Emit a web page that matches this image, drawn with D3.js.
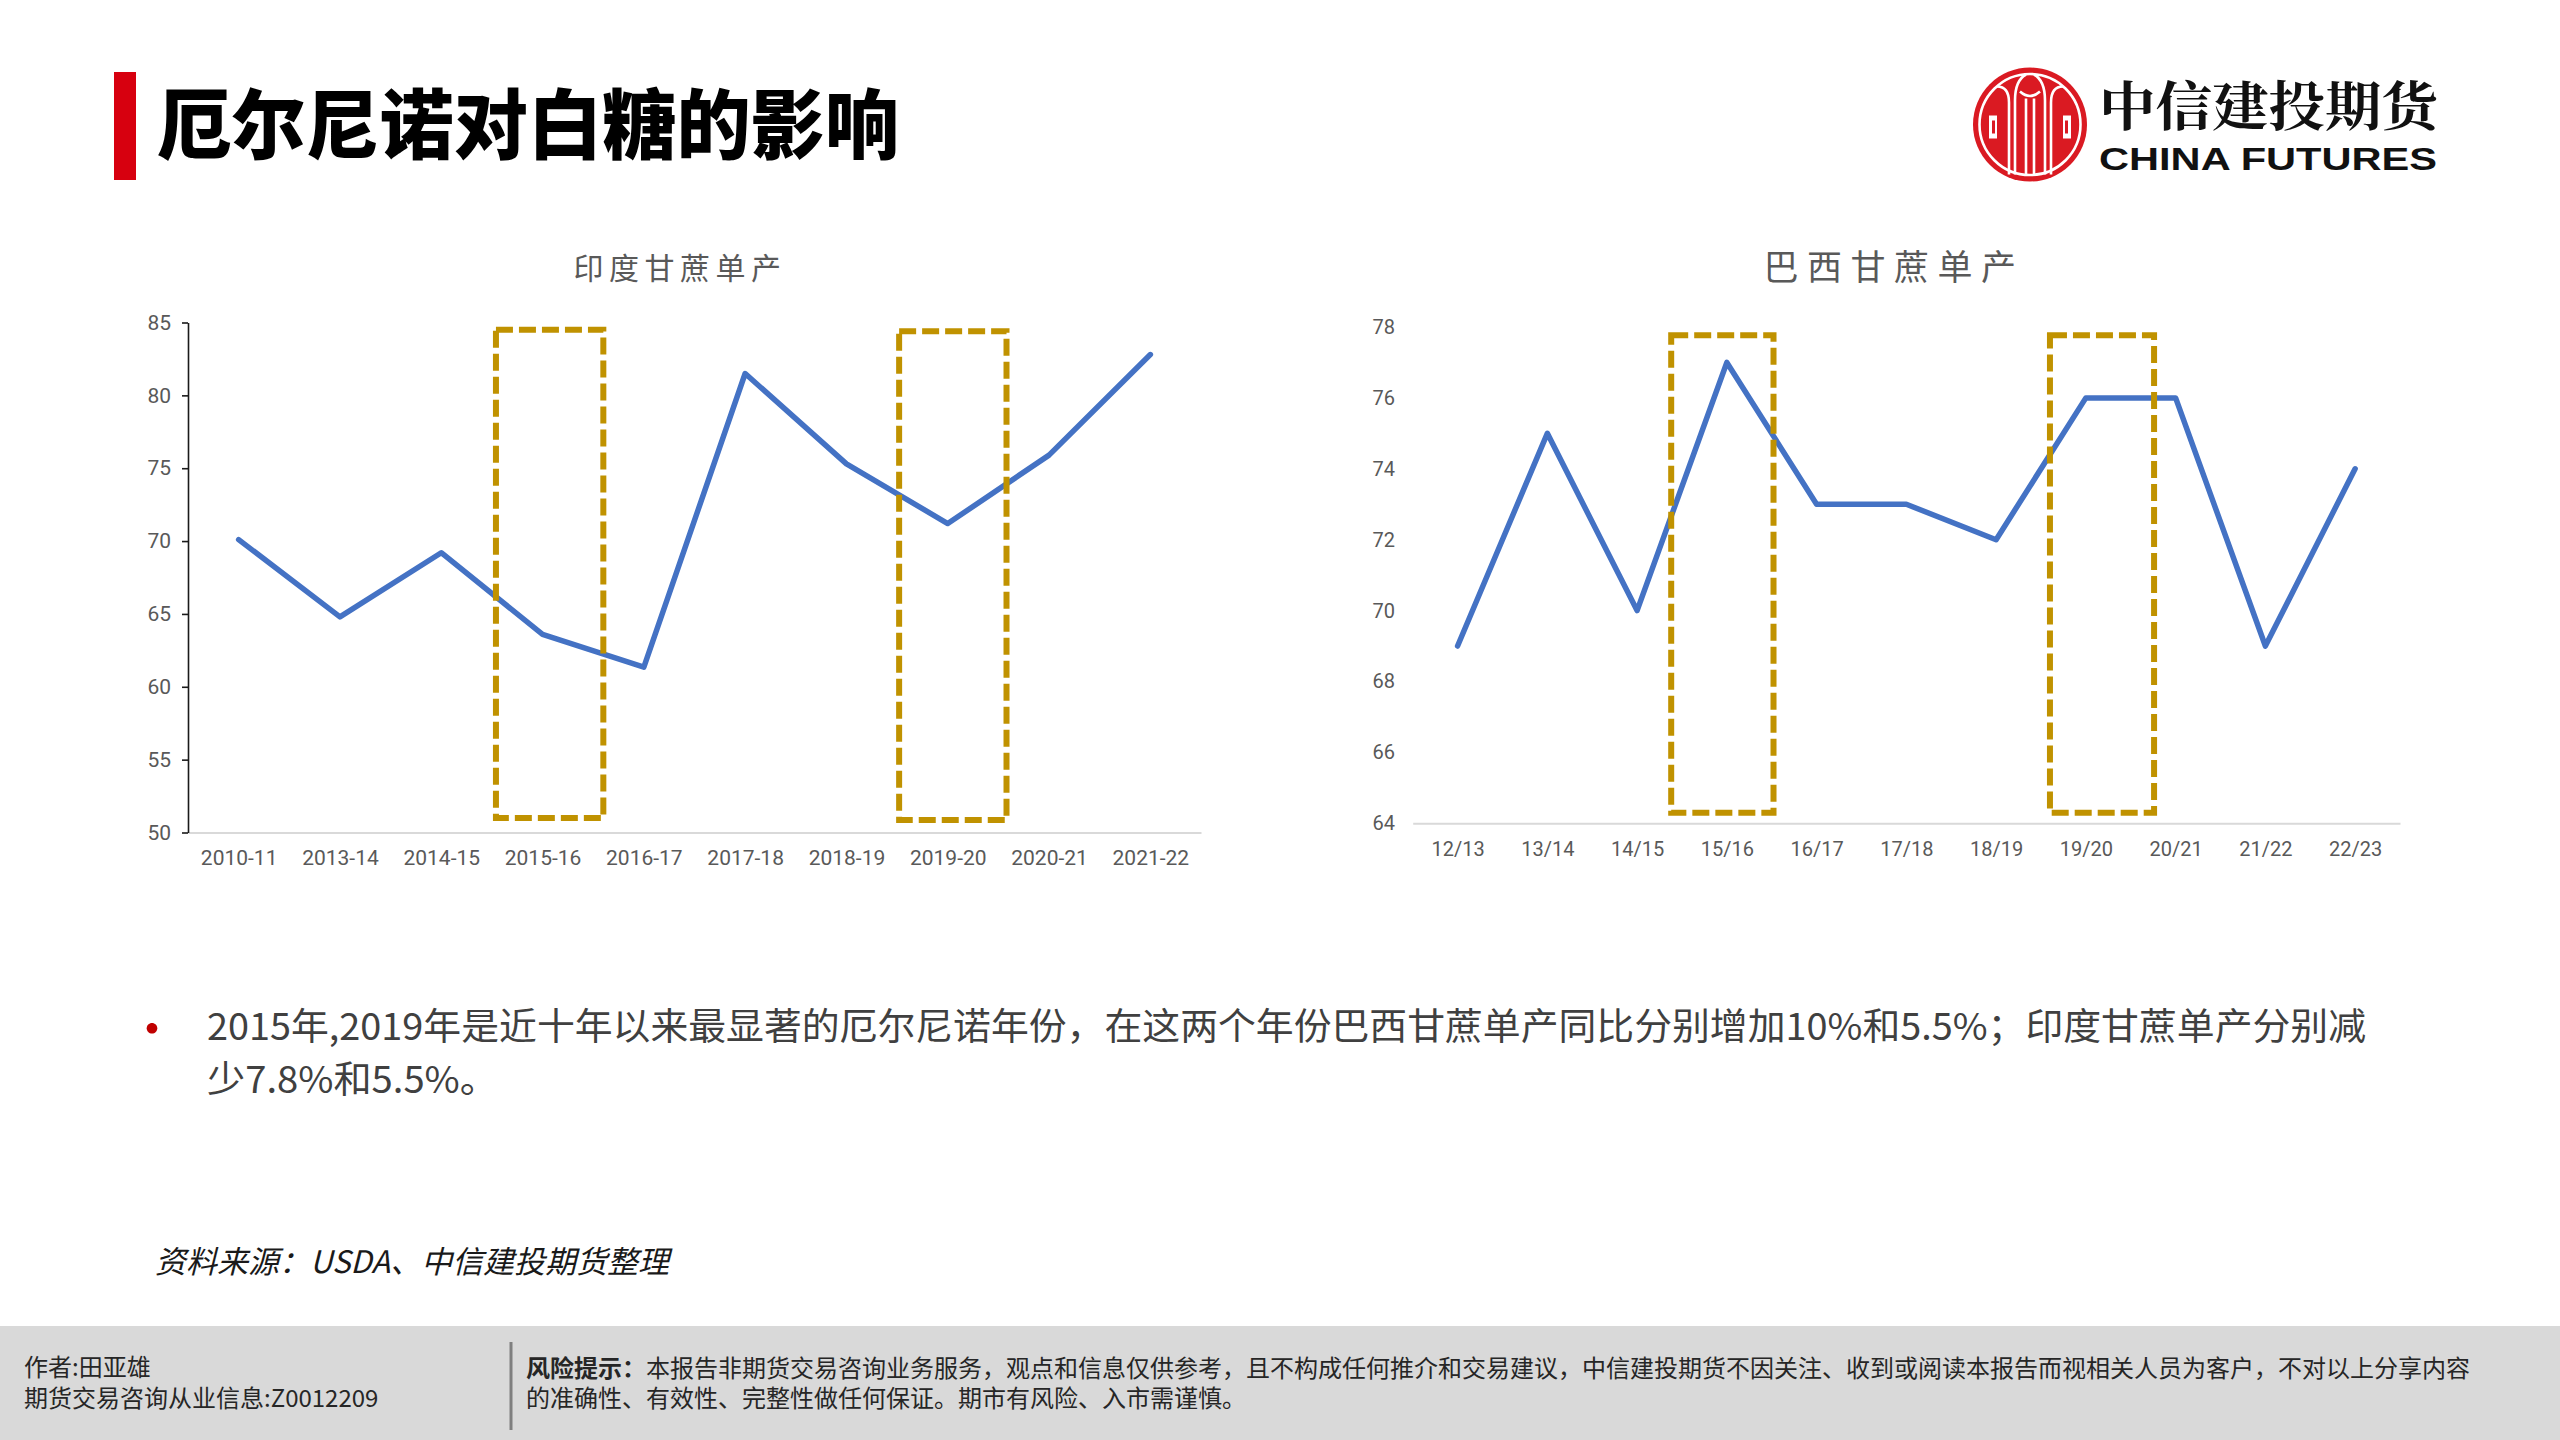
<!DOCTYPE html>
<html><head><meta charset="utf-8">
<script src="https://cdn.jsdelivr.net/npm/d3@7"></script>
<style>body{margin:0;background:#fff;} svg{display:block;}</style>
</head><body><svg id="c" width="2560" height="1440"></svg>
<script>
// ---------- data ----------
const indiaTitle = "印度甘蔗单产";
const indiaCategories = ["2010-11","2013-14","2014-15","2015-16","2016-17","2017-18","2018-19","2019-20","2020-21","2021-22"];
const indiaValues = [70.1, 64.8, 69.2, 63.6, 61.35, 81.5, 75.3, 71.2, 75.9, 82.8];
const indiaTicks = [50, 55, 60, 65, 70, 75, 80, 85];
// highlight boxes: [from category index, to category index, low value, high value]
const indiaBoxes = [[2.54, 3.60, 51.0, 84.5], [6.52, 7.58, 50.85, 84.4]];

const brazilTitle = "巴西甘蔗单产";
const brazilCategories = ["12/13","13/14","14/15","15/16","16/17","17/18","18/19","19/20","20/21","21/22","22/23"];
const brazilValues = [69, 75, 70, 77, 73, 73, 72, 76, 76, 69, 74];
const brazilTicks = [64, 66, 68, 70, 72, 74, 76, 78];
const brazilBoxes = [[2.38, 3.52, 64.3, 77.77], [6.60, 7.76, 64.3, 77.77]];

const mainTitle = "厄尔尼诺对白糖的影响";
const bulletLines = ["2015年,2019年是近十年以来最显著的厄尔尼诺年份，在这两个年份巴西甘蔗单产同比分别增加10%和5.5%；印度甘蔗单产分别减", "少7.8%和5.5%。"];
const sourceText = "资料来源：USDA、中信建投期货整理";
const authorLines = ["作者:田亚雄", "期货交易咨询从业信息:Z0012209"];
const riskLabel = "风险提示：";
const riskLines = ["本报告非期货交易咨询业务服务，观点和信息仅供参考，且不构成任何推介和交易建议，中信建投期货不因关注、收到或阅读本报告而视相关人员为客户，不对以上分享内容", "的准确性、有效性、完整性做任何保证。期市有风险、入市需谨慎。"];

// ---------- drawing ----------
const svg = d3.select("#c");
const CJK = "'Noto Sans CJK SC', 'Noto Sans', sans-serif";
const NUM = "Roboto, 'Noto Sans', sans-serif";

// header
svg.append("rect").attr("x", 114).attr("y", 72).attr("width", 22).attr("height", 108).attr("fill", "#D7000F");
svg.append("text").attr("x", 157).attr("y", 120).attr("dominant-baseline", "central")
  .attr("font-family", CJK).attr("font-weight", 900).attr("font-size", 76)
  .attr("textLength", 742).attr("lengthAdjust", "spacingAndGlyphs").attr("fill", "#000").text(mainTitle);

// logo
const logo = svg.append("g").attr("transform", "translate(2030,124.5)");
logo.append("circle").attr("r", 57).attr("fill", "#DA1A22");
logo.append("circle").attr("r", 50.5).attr("fill", "none").attr("stroke", "#fff").attr("stroke-width", 2.6);
const lp = [
  "M-21,50 L-21,-22 Q-21,-38 -33,-38",
  "M-15,50 L-15,-24 Q-15,-44 -4,-50",
  "M21,50 L21,-22 Q21,-38 33,-38",
  "M15,50 L15,-24 Q15,-44 4,-50",
  "M-10,-33 Q0,-24 10,-33",
  "M-4,50 L-4,-26",
  "M4,50 L4,-26"
];
lp.forEach(d => logo.append("path").attr("d", d).attr("fill", "none").attr("stroke", "#fff").attr("stroke-width", 2.6));
logo.append("path").attr("d", "M-41,-9 L-33,-9 L-33,14 L-41,14 Z").attr("fill", "#fff");
logo.append("rect").attr("x", -38).attr("y", -4).attr("width", 3).attr("height", 13).attr("fill", "#DA1A22");
logo.append("path").attr("d", "M41,-9 L33,-9 L33,14 L41,14 Z").attr("fill", "#fff");
logo.append("rect").attr("x", 35).attr("y", -4).attr("width", 3).attr("height", 13).attr("fill", "#DA1A22");
svg.append("text").attr("x", 2099).attr("y", 126)
  .attr("font-family", "'Noto Serif CJK SC', " + CJK).attr("font-weight", 700).attr("font-size", 53)
  .attr("textLength", 339).attr("lengthAdjust", "spacingAndGlyphs").attr("fill", "#111").text("中信建投期货");
svg.append("text").attr("x", 2099).attr("y", 170)
  .attr("font-family", "'Liberation Sans', Arial, sans-serif").attr("font-weight", 700).attr("font-size", 31)
  .attr("textLength", 338).attr("lengthAdjust", "spacingAndGlyphs").attr("fill", "#111").text("CHINA FUTURES");

function drawChart(cfg) {
  const n = cfg.categories.length;
  const x = d3.scaleLinear().domain([-0.5, n - 0.5]).range([cfg.x0, cfg.x1]);
  const y = d3.scaleLinear().domain([cfg.ticks[0], cfg.ticks[cfg.ticks.length - 1]]).range([cfg.yb, cfg.yt]);
  const g = svg.append("g");

  // title
  g.append("text").attr("x", cfg.titleX).attr("y", cfg.titleY).attr("text-anchor", "middle")
    .attr("dominant-baseline", "central").attr("font-family", CJK).attr("font-weight", 400)
    .attr("font-size", cfg.titleSize).attr("letter-spacing", cfg.titleSpacing).attr("fill", "#595959").text(cfg.title);

  // x axis
  const xa = g.append("g").attr("transform", `translate(0,${cfg.yb})`)
    .call(d3.axisBottom(x).tickValues(d3.range(n)).tickFormat(i => cfg.categories[i]).tickSize(0).tickPadding(cfg.xPad));
  xa.select(".domain").attr("stroke", "#D9D9D9").attr("stroke-width", 2);
  xa.selectAll("text").attr("font-family", NUM).attr("font-size", cfg.xFont).attr("fill", "#595959");

  // y axis
  const ya = g.append("g").attr("transform", `translate(${cfg.x0},0)`)
    .call(d3.axisLeft(y).tickValues(cfg.ticks).tickSize(cfg.yTick).tickPadding(cfg.yPad).tickSizeOuter(0));
  if (cfg.yLine) {
    ya.select(".domain").attr("stroke", "#1a1a1a").attr("stroke-width", 1.6);
    ya.selectAll(".tick line").attr("stroke", "#1a1a1a").attr("stroke-width", 1.6);
  } else {
    ya.select(".domain").remove();
    ya.selectAll(".tick line").remove();
  }
  ya.selectAll("text").attr("font-family", NUM).attr("font-size", cfg.yFont).attr("fill", "#595959");

  // line
  const line = d3.line().x((d, i) => x(i)).y(d => y(d));
  g.append("path").datum(cfg.values).attr("d", line).attr("fill", "none")
    .attr("stroke", "#4472C4").attr("stroke-width", 5.5).attr("stroke-linejoin", "round").attr("stroke-linecap", "round");

  // highlight boxes
  g.selectAll("rect.box").data(cfg.boxes).enter().append("rect").attr("class", "box")
    .attr("x", d => x(d[0])).attr("width", d => x(d[1]) - x(d[0]))
    .attr("y", d => y(d[3])).attr("height", d => y(d[2]) - y(d[3]))
    .attr("fill", "none").attr("stroke", "#C09200").attr("stroke-width", 6)
    .attr("stroke-dasharray", "17,6");
}

drawChart({
  title: indiaTitle, categories: indiaCategories, values: indiaValues, ticks: indiaTicks, boxes: indiaBoxes,
  x0: 188, x1: 1201, yb: 832.5, yt: 322.5, titleX: 680, titleY: 266, titleSize: 30, titleSpacing: 5.5,
  xPad: 17.5, xFont: 21, yTick: 6, yPad: 11, yFont: 21, yLine: true
});
drawChart({
  title: brazilTitle, categories: brazilCategories, values: brazilValues, ticks: brazilTicks, boxes: brazilBoxes,
  x0: 1412.7, x1: 2400, yb: 823.3, yt: 327, titleX: 1894, titleY: 264, titleSize: 35, titleSpacing: 8.5,
  xPad: 18.5, xFont: 20, yTick: 0, yPad: 17.7, yFont: 20, yLine: false
});

// bullet text
svg.append("text").attr("x", 152).attr("y", 1025).attr("text-anchor", "middle").attr("dominant-baseline", "central")
  .attr("font-family", CJK).attr("font-size", 50).attr("fill", "#C00000").text("•");
const bl = svg.append("g");
bl.append("text").attr("x", 207).attr("y", 1024).attr("dominant-baseline", "central")
  .attr("font-family", CJK).attr("font-size", 37).attr("fill", "#404040")
  .attr("textLength", 2159).attr("lengthAdjust", "spacingAndGlyphs").text(bulletLines[0]);
bl.append("text").attr("x", 207).attr("y", 1077).attr("dominant-baseline", "central")
  .attr("font-family", CJK).attr("font-size", 37).attr("fill", "#404040")
  .attr("textLength", 291).attr("lengthAdjust", "spacingAndGlyphs").text(bulletLines[1]);

// source
svg.append("text").attr("x", 155).attr("y", 1259).attr("dominant-baseline", "central")
  .attr("font-family", CJK).attr("font-style", "italic").attr("font-size", 31).attr("fill", "#1a1a1a")
  .attr("textLength", 514).attr("lengthAdjust", "spacingAndGlyphs").text(sourceText);

// footer
svg.append("rect").attr("x", 0).attr("y", 1326).attr("width", 2560).attr("height", 114).attr("fill", "#D9D9D9");
svg.append("line").attr("x1", 511).attr("x2", 511).attr("y1", 1342).attr("y2", 1430).attr("stroke", "#7F7F7F").attr("stroke-width", 3);
authorLines.forEach((t, i) => {
  svg.append("text").attr("x", 24).attr("y", 1365 + i * 31).attr("dominant-baseline", "central")
    .attr("font-family", CJK).attr("font-size", 24).attr("fill", "#262626").text(t);
});
const r1 = svg.append("text").attr("x", 526).attr("y", 1366).attr("dominant-baseline", "central")
  .attr("font-family", CJK).attr("font-size", 24).attr("fill", "#262626")
  .attr("textLength", 1944).attr("lengthAdjust", "spacingAndGlyphs");
r1.append("tspan").attr("font-weight", 700).text(riskLabel);
r1.append("tspan").text(riskLines[0]);
svg.append("text").attr("x", 526).attr("y", 1396).attr("dominant-baseline", "central")
  .attr("font-family", CJK).attr("font-size", 24).attr("fill", "#262626").text(riskLines[1]);
</script>
</body></html>
